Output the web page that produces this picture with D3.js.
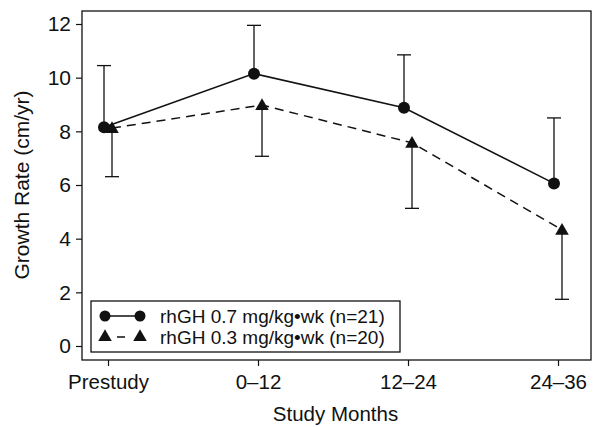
<!DOCTYPE html>
<html>
<head>
<meta charset="utf-8">
<script src="https://cdn.jsdelivr.net/npm/d3@7"></script>
<style>
  body { margin: 0; background: #fff; }
  text { font-family: "Liberation Sans", Arial, sans-serif; fill: #111; }
</style>
</head>
<body>
<svg id="chart" width="593" height="427" viewBox="0 0 593 427"></svg>
<script>
// data
const periods = ["Prestudy", "0-12", "12-24", "24-36"];
const highDose = [8.15, 10.15, 8.88, 6.06];      // circles, 0.7 mg/kg/wk
const highDoseUpper = [10.45, 11.95, 10.85, 8.5];
const lowDose = [8.12, 8.98, 7.57, 4.33];        // triangles, 0.3 mg/kg/wk
const lowDoseLower = [6.31, 7.07, 5.13, 1.74];
const yTicks = [0, 2, 4, 6, 8, 10, 12];
const legendLabels = ["rhGH 0.7 mg/kg\u2022wk (n=21)", "rhGH 0.3 mg/kg\u2022wk (n=20)"];

const svg = d3.select("#chart");
const frame = { left: 82, right: 591, top: 11, bottom: 360 };

const x = d3.scalePoint().domain(periods).range([108, 558]);
const y = d3.scaleLinear().domain([0, 12]).range([346, 24]);
const off = 4; // series are nudged apart horizontally

// frame
svg.append("rect")
    .attr("x", frame.left).attr("y", frame.top)
    .attr("width", frame.right - frame.left).attr("height", frame.bottom - frame.top)
    .attr("fill", "none").attr("stroke", "#111").attr("stroke-width", 1.3);

// y axis
const yAxis = svg.append("g")
    .attr("transform", `translate(${frame.left},0)`)
    .call(d3.axisLeft(y).tickValues(yTicks).tickSize(6).tickPadding(5));
yAxis.select(".domain").remove();
yAxis.selectAll("line").attr("stroke", "#111").attr("stroke-width", 1.2);
yAxis.selectAll("text").style("font-size", "21px").style("font-family", "Liberation Sans, Arial, sans-serif").attr("fill", "#111");

// x axis
const xAxis = svg.append("g")
    .attr("transform", `translate(0,${frame.bottom})`)
    .call(d3.axisBottom(x).tickSize(6).tickPadding(8).tickFormat(d => d.replace("-", "\u2013")));
xAxis.select(".domain").remove();
xAxis.selectAll("line").attr("stroke", "#111").attr("stroke-width", 1.2);
xAxis.selectAll("text").style("font-size", "20.5px").style("font-family", "Liberation Sans, Arial, sans-serif").attr("fill", "#111");

// axis titles
svg.append("text")
    .attr("transform", `translate(29,${(y(0) + y(12)) / 2}) rotate(-90)`)
    .attr("text-anchor", "middle")
    .style("font-size", "21px")
    .text("Growth Rate (cm/yr)");
svg.append("text")
    .attr("x", (frame.left + frame.right) / 2 - 1).attr("y", 421)
    .attr("text-anchor", "middle")
    .style("font-size", "20.5px")
    .text("Study Months");

const hiPts = periods.map((p, i) => ({ p, v: highDose[i], e: highDoseUpper[i] }));
const loPts = periods.map((p, i) => ({ p, v: lowDose[i], e: lowDoseLower[i] }));

// error bars
function errorBars(pts, dx) {
    const g = svg.append("g").attr("stroke", "#111").attr("stroke-width", 1.3);
    g.selectAll(".stem").data(pts).enter().append("line")
        .attr("x1", d => x(d.p) + dx).attr("x2", d => x(d.p) + dx)
        .attr("y1", d => y(d.v)).attr("y2", d => y(d.e));
    g.selectAll(".cap").data(pts).enter().append("line")
        .attr("x1", d => x(d.p) + dx - 7).attr("x2", d => x(d.p) + dx + 7)
        .attr("y1", d => y(d.e)).attr("y2", d => y(d.e));
}
errorBars(hiPts, -off);
errorBars(loPts, off);

// lines
const lineHi = d3.line().x(d => x(d.p) - off).y(d => y(d.v));
const lineLo = d3.line().x(d => x(d.p) + off).y(d => y(d.v));
svg.append("path").datum(hiPts).attr("d", lineHi)
    .attr("fill", "none").attr("stroke", "#111").attr("stroke-width", 1.5);
svg.append("path").datum(loPts).attr("d", lineLo)
    .attr("fill", "none").attr("stroke", "#111").attr("stroke-width", 1.5)
    .attr("stroke-dasharray", "9,6");

// markers
const tri = d3.symbol().type(d3.symbolTriangle).size(80);
svg.selectAll(".tri").data(loPts).enter().append("path")
    .attr("d", tri)
    .attr("transform", d => `translate(${x(d.p) + off},${y(d.v) + 1})`)
    .attr("fill", "#111");
svg.selectAll(".dot").data(hiPts).enter().append("circle")
    .attr("cx", d => x(d.p) - off).attr("cy", d => y(d.v))
    .attr("r", 6).attr("fill", "#111");

// legend
const legend = svg.append("g");
legend.append("rect")
    .attr("x", 91).attr("y", 301).attr("width", 309).attr("height", 51)
    .attr("fill", "#fff").attr("stroke", "#111").attr("stroke-width", 1.3);
const rows = [316, 337];
// solid row
legend.append("line").attr("x1", 105).attr("x2", 140).attr("y1", rows[0]).attr("y2", rows[0])
    .attr("stroke", "#111").attr("stroke-width", 1.5);
legend.selectAll(".ldot").data([105, 140]).enter().append("circle")
    .attr("cx", d => d).attr("cy", rows[0]).attr("r", 5.5).attr("fill", "#111");
// dashed row
legend.append("line").attr("x1", 105).attr("x2", 140).attr("y1", rows[1]).attr("y2", rows[1])
    .attr("stroke", "#111").attr("stroke-width", 1.5).attr("stroke-dasharray", "0,12,8,20");
legend.selectAll(".ltri").data([105, 140]).enter().append("path")
    .attr("d", tri).attr("transform", d => `translate(${d},${rows[1]})`).attr("fill", "#111");
legend.selectAll(".ltext").data(legendLabels).enter().append("text")
    .attr("x", 160).attr("y", (d, i) => rows[i] + 6.5)
    .style("font-size", "19px")
    .text(d => d);
</script>
</body>
</html>
